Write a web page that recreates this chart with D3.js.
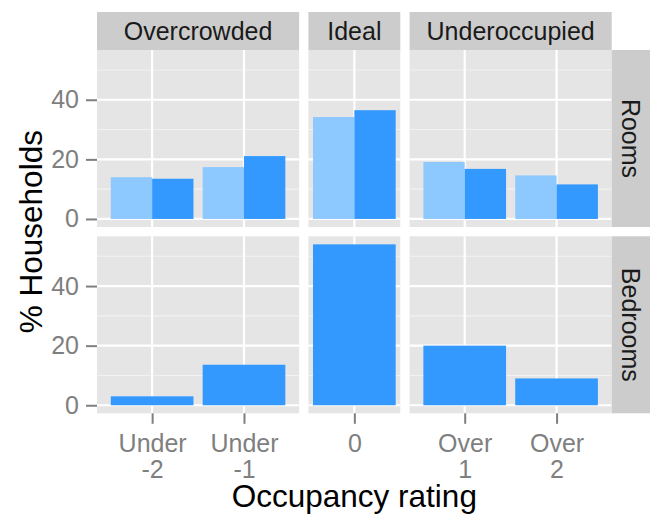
<!DOCTYPE html>
<html><head><meta charset="utf-8">
<script src="https://cdn.jsdelivr.net/npm/d3@7"></script>
<style>
body{margin:0;background:#fff}
text{font-family:"Liberation Sans",Arial,Helvetica,sans-serif}
</style>
</head><body>
<svg id="chart" width="651" height="520"></svg>
<script>
// ---- data ----
const ratings      = ["Under -2", "Under -1", "0", "Over 1", "Over 2"];
const ratingLine1  = ["Under", "Under", "0", "Over", "Over"];
const ratingLine2  = ["-2", "-1", "", "1", "2"];
const ratingGroup  = ["Overcrowded", "Overcrowded", "Ideal", "Underoccupied", "Underoccupied"];
const groups       = ["Overcrowded", "Ideal", "Underoccupied"];
const measures     = ["Rooms", "Bedrooms"];
const seriesNames  = ["Earlier", "Later"];
const roomsEarlier = [14.0, 17.4, 34.2, 19.1, 14.6];
const roomsLater   = [13.5, 21.1, 36.5, 16.8, 11.6];
const bedroomsLater = [3.0, 13.6, 54.0, 20.0, 9.0];
const yTicks = [0, 20, 40];
const yMinorTicks = [10, 30, 50];

(function () {
// ---- build records ----
const records = [];
ratings.forEach((r, i) => {
  records.push({measure: "Rooms", rating: r, group: ratingGroup[i], series: "Earlier", value: roomsEarlier[i], nSeries: 2});
  records.push({measure: "Rooms", rating: r, group: ratingGroup[i], series: "Later", value: roomsLater[i], nSeries: 2});
  records.push({measure: "Bedrooms", rating: r, group: ratingGroup[i], series: "Later", value: bedroomsLater[i], nSeries: 1});
});

// ---- layout ----
const svg = d3.select("#chart");
const pLeft = 97, pRight = 611.7, pTop = 50, pBottom = 413.3, gap = 9.3;
const stripH = 38, stripW = 38.3;
const panelH = (pBottom - pTop - gap) / 2;
const grpCats = groups.map(g => ratings.filter((r, i) => ratingGroup[i] === g));
const grpUnits = grpCats.map(c => c.length === 1 ? 1 : c.length + 0.2);
const totalUnits = d3.sum(grpUnits);
const unit = (pRight - pLeft - gap * (groups.length - 1)) / totalUnits;
const cols = [];
let cx = pLeft;
groups.forEach((g, i) => {
  const w = grpUnits[i] * unit;
  const x = d3.scalePoint().domain(grpCats[i]).range([cx, cx + w]).padding(0.6);
  cols.push({g, x0: cx, w, x});
  cx += w + gap;
});
const rows = measures.map((m, i) => ({m, y0: pTop + i * (panelH + gap)}));

const ymax = d3.max(records, d => d.value);
const y = d3.scaleLinear().domain([-0.05 * ymax, 1.05 * ymax]).range([panelH, 0]);
const color = d3.scaleOrdinal().domain(seriesNames).range(["#8DC8FF", "#3399FF"]);
const barW = 0.9 * unit;

// ---- panels ----
rows.forEach(row => {
  cols.forEach(col => {
    const g = svg.append("g").attr("transform", `translate(0,${row.y0})`);
    g.append("rect").attr("x", col.x0).attr("y", 0).attr("width", col.w).attr("height", panelH).attr("fill", "#E5E5E5");
    g.selectAll(".minor").data(yMinorTicks).join("line")
      .attr("x1", col.x0).attr("x2", col.x0 + col.w)
      .attr("y1", d => y(d)).attr("y2", d => y(d))
      .attr("stroke", "#F2F2F2").attr("stroke-width", 1.1);
    g.selectAll(".major").data(yTicks).join("line")
      .attr("x1", col.x0).attr("x2", col.x0 + col.w)
      .attr("y1", d => y(d)).attr("y2", d => y(d))
      .attr("stroke", "#FFFFFF").attr("stroke-width", 2.2);
    g.selectAll(".vmajor").data(col.x.domain()).join("line")
      .attr("x1", d => col.x(d)).attr("x2", d => col.x(d))
      .attr("y1", 0).attr("y2", panelH)
      .attr("stroke", "#FFFFFF").attr("stroke-width", 2.2);
    const data = records.filter(d => d.measure === row.m && d.group === col.g);
    g.selectAll(".bar").data(data).join("rect")
      .attr("x", d => {
        if (d.nSeries === 1) return col.x(d.rating) - barW / 2;
        const sub = d3.scaleBand().domain(seriesNames).range([col.x(d.rating) - barW / 2, col.x(d.rating) + barW / 2]);
        return sub(d.series);
      })
      .attr("width", d => d.nSeries === 1 ? barW : barW / 2)
      .attr("y", d => y(d.value))
      .attr("height", d => y(0) - y(d.value))
      .attr("fill", d => color(d.series));
  });
  // right strip
  svg.append("rect").attr("x", pRight).attr("y", row.y0).attr("width", stripW).attr("height", panelH).attr("fill", "#CCCCCC");
  svg.append("text")
    .attr("transform", `translate(${pRight + stripW / 2},${row.y0 + panelH / 2}) rotate(90)`)
    .attr("text-anchor", "middle").attr("dy", "0.35em")
    .attr("font-size", 25).attr("fill", "#1A1A1A").text(row.m);
  // y axis
  const ax = svg.append("g").attr("transform", `translate(${pLeft},${row.y0})`)
    .call(d3.axisLeft(y).tickValues(yTicks).tickSize(11).tickPadding(7).tickFormat(d3.format("d")));
  ax.select(".domain").remove();
  ax.selectAll("line").attr("stroke", "#7F7F7F").attr("stroke-width", 2);
  ax.selectAll("text").attr("font-size", 25).attr("fill", "#7F7F7F").attr("font-family", null);
});

// ---- top strips + x axes ----
cols.forEach(col => {
  svg.append("rect").attr("x", col.x0).attr("y", pTop - stripH).attr("width", col.w).attr("height", stripH).attr("fill", "#CCCCCC");
  svg.append("text").attr("x", col.x0 + col.w / 2).attr("y", pTop - stripH / 2).attr("dy", "0.35em")
    .attr("text-anchor", "middle").attr("font-size", 25).attr("fill", "#1A1A1A").text(col.g);
  const ax = svg.append("g").attr("transform", `translate(0,${pBottom})`)
    .call(d3.axisBottom(col.x).tickSize(10.5).tickPadding(10));
  ax.select(".domain").remove();
  ax.selectAll("line").attr("stroke", "#7F7F7F").attr("stroke-width", 2);
  ax.selectAll("text").attr("font-size", 25).attr("fill", "#7F7F7F").attr("font-family", null)
    .each(function(d) {
      const i = ratings.indexOf(d);
      const t = d3.select(this).attr("dy", null).attr("y", null).text(null);
      t.append("tspan").attr("x", 0).attr("y", 38.4).text(ratingLine1[i]);
      if (ratingLine2[i]) t.append("tspan").attr("x", 0).attr("y", 65.2).text(ratingLine2[i]);
    });
});

// ---- axis titles ----
svg.append("text").attr("x", (pLeft + pRight) / 2).attr("y", 506.5).attr("text-anchor", "middle")
  .attr("font-size", 31.5).attr("fill", "#000").text("Occupancy rating");
svg.append("text").attr("transform", `translate(42,${(pTop + pBottom) / 2}) rotate(-90)`)
  .attr("text-anchor", "middle").attr("font-size", 31.5).attr("fill", "#000").text("% Households");
})();
</script>
</body></html>
